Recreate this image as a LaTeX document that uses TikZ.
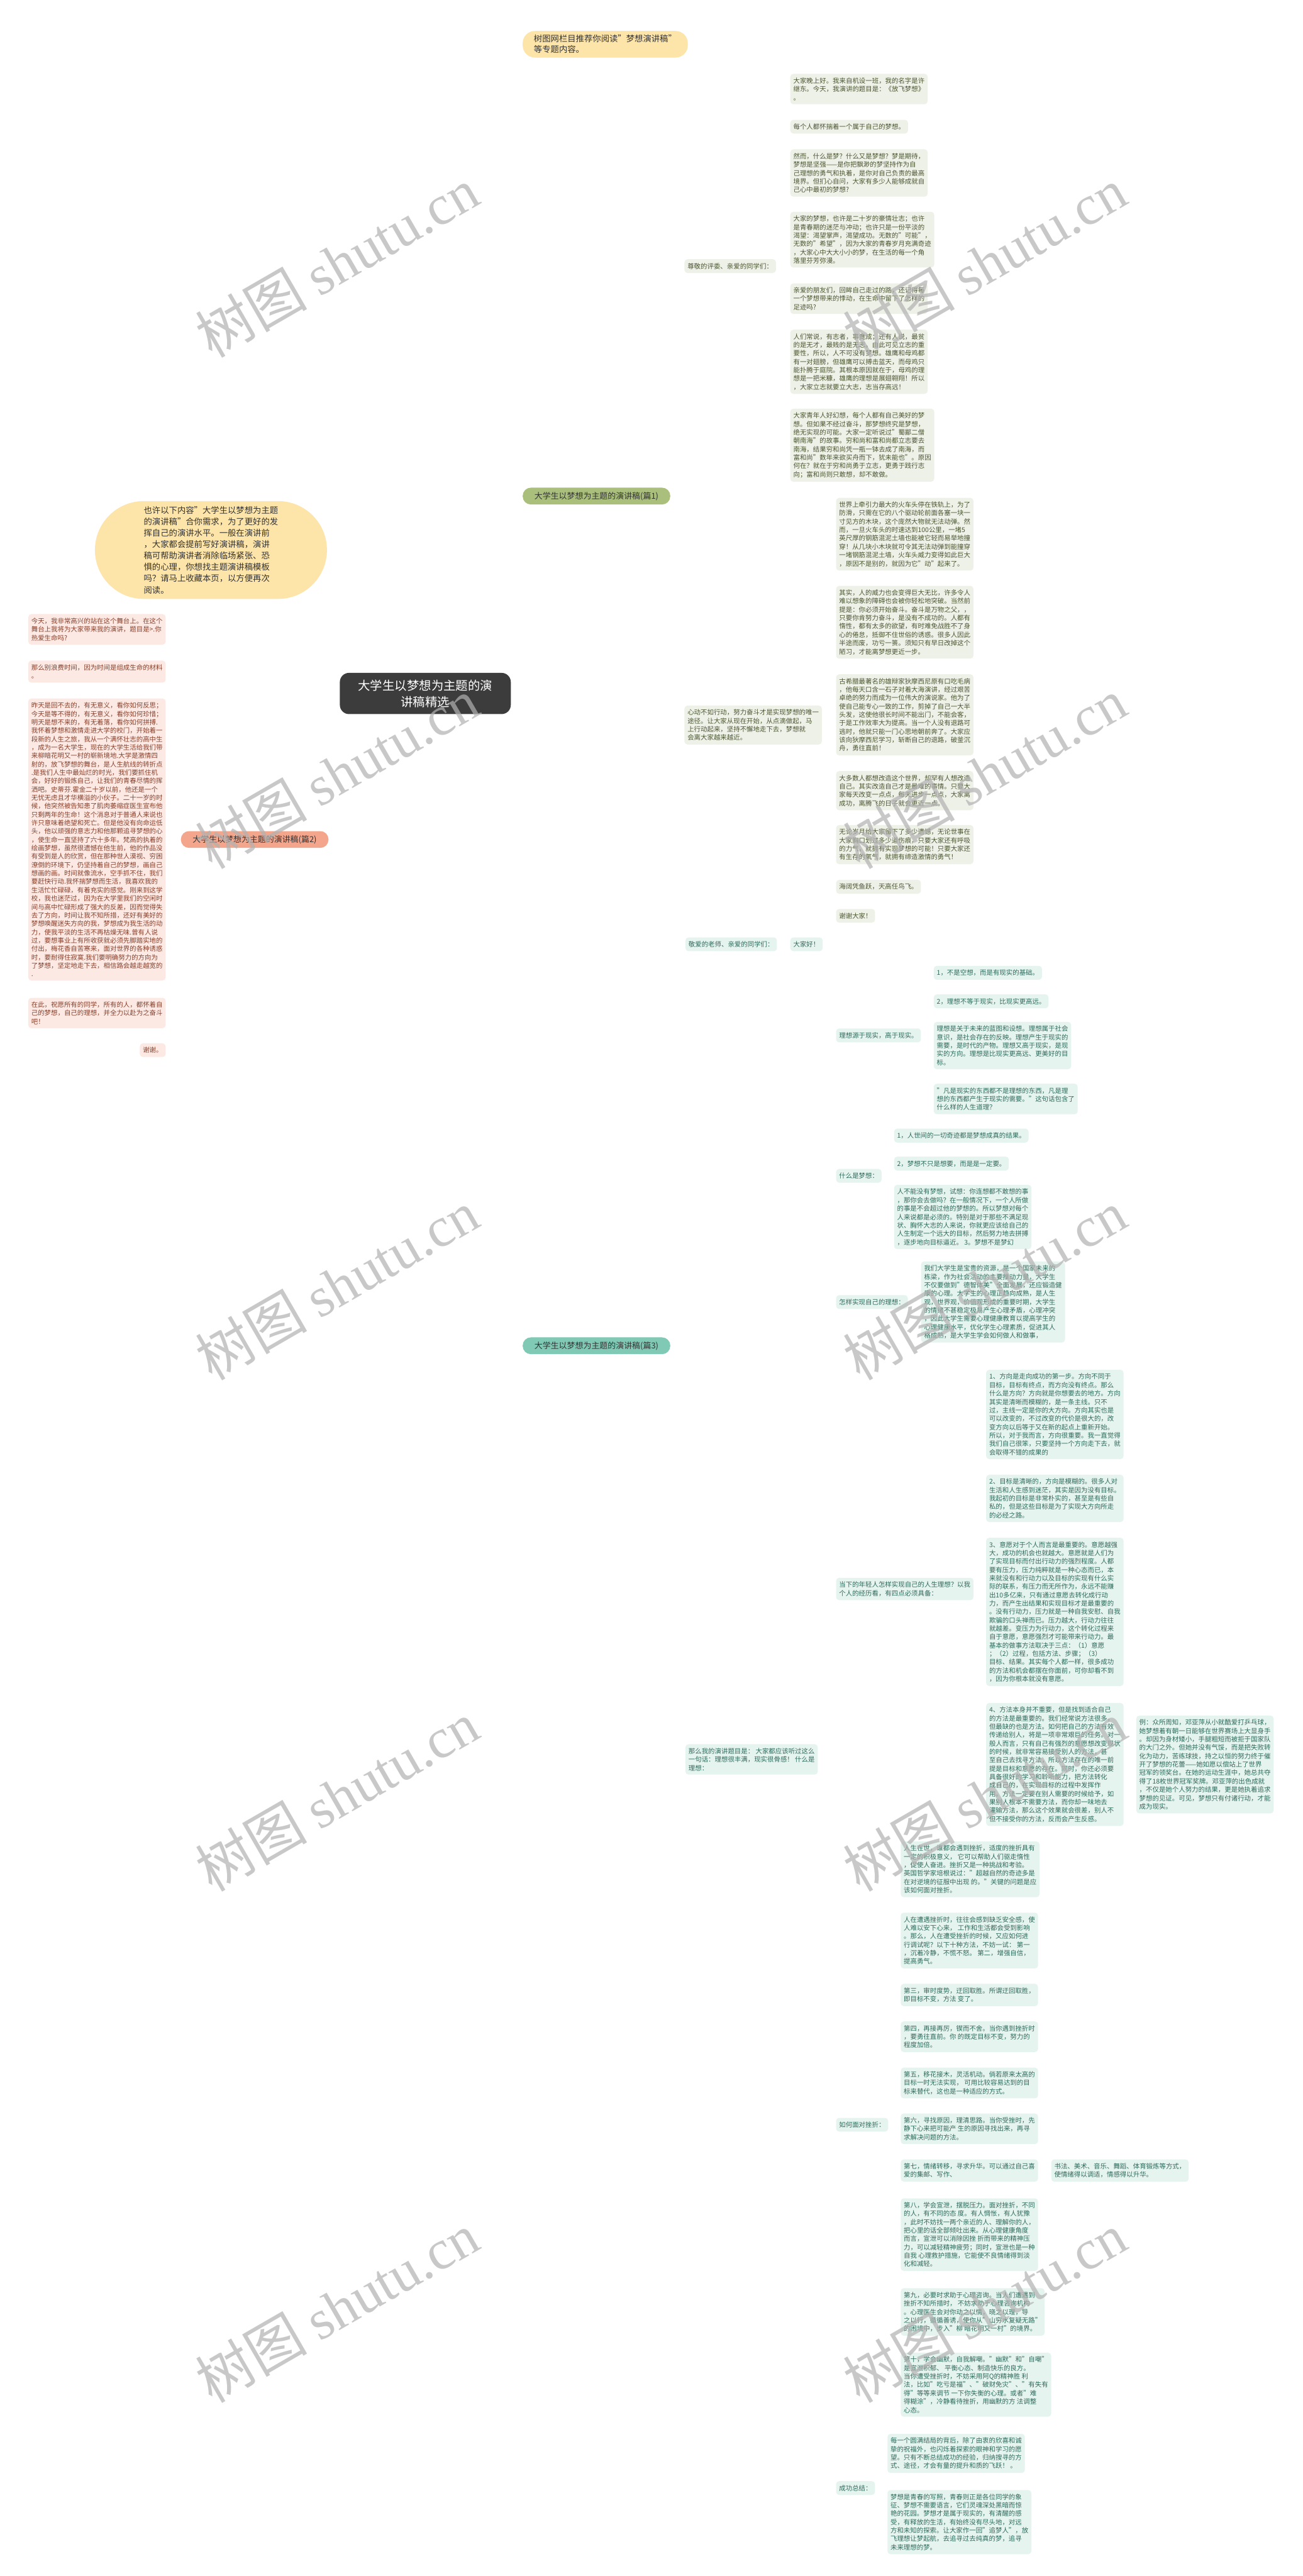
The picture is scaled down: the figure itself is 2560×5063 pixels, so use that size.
\documentclass[tikz,border=0pt]{standalone}
\usepackage{fontspec}
\setmainfont{Noto Sans CJK SC}
\newfontfamily\wmlatin{Liberation Serif}
\pgfdeclarelayer{bg}
\pgfdeclarelayer{fg}
\pgfsetlayers{bg,main,fg}
\definecolor{gline}{HTML}{9DB36F}
\definecolor{gfill}{HTML}{EEF1E7}
\definecolor{gtext}{HTML}{4B5632}
\definecolor{gnode}{HTML}{A9BF7B}
\definecolor{pline}{HTML}{EC8D70}
\definecolor{pfill}{HTML}{FDE9E3}
\definecolor{ptext}{HTML}{87402C}
\definecolor{pnode}{HTML}{F4A68D}
\definecolor{tline}{HTML}{79C3AE}
\definecolor{tfill}{HTML}{E5F4EF}
\definecolor{ttext}{HTML}{2F6A5B}
\definecolor{tnode}{HTML}{80CAB5}
\definecolor{yline}{HTML}{F8D893}
\definecolor{yfill}{HTML}{FDE4A9}
\definecolor{ctrfill}{HTML}{3C3C3C}
\begin{document}
\begin{tikzpicture}[x=0.5pt,y=-0.5pt,
 box/.style={rounded corners=3pt,inner xsep=3pt,inner ysep=3.75pt,align=left,font=\fontsize{6.45pt}{8.25pt}\selectfont},
 gbox/.style={box,fill=gfill,text=gtext},
 pbox/.style={box,fill=pfill,text=ptext},
 tbox/.style={box,fill=tfill,text=ttext},
 branch/.style={rounded corners=8pt,minimum width=145pt,minimum height=16.5pt,inner xsep=4pt,inner ysep=2pt,font=\fontsize{8pt}{10pt}\selectfont,text=black!80},
 gl/.style={draw=gline,line width=1pt,rounded corners=5pt},
 pl/.style={draw=pline,line width=1pt,rounded corners=5pt},
 tl/.style={draw=tline,line width=1pt,rounded corners=5pt},
 yl/.style={draw=yline,line width=1.6pt},
 wm/.style={text=black!30,text opacity=0.7,font=\fontsize{55pt}{60pt}\selectfont,inner sep=0pt,rotate=30}
]
\fill[white] (0,0) rectangle (2560,5063);
\useasboundingbox (0,0) rectangle (2560,5063);

% ---------- centre and first level ----------
\node[fill=ctrfill,text=white,rounded corners=9pt,minimum width=168pt,minimum height=40.5pt,align=center,font=\fontsize{12pt}{16pt}\selectfont] (ctr) at (836,1363) {大学生以梦想为主题的演\\讲稿精选};
\node[fill=yfill,rounded corners=12pt,inner xsep=11pt,inner ysep=4pt,align=left,text=black!80,font=\fontsize{8.25pt}{10.5pt}\selectfont,anchor=west] (top) at (1027,87) {树图网栏目推荐你阅读"梦想演讲稿"\\等专题内容。};
\node[fill=yfill,rounded corners=48pt,inner xsep=48pt,inner ysep=5pt,align=left,text=black!80,font=\fontsize{8.25pt}{11.2pt}\selectfont,anchor=east] (intro) at (643,1081) {也许以下内容"大学生以梦想为主题\\的演讲稿"合你需求，为了更好的发\\挥自己的演讲水平。一般在演讲前\\，大家都会提前写好演讲稿，演讲\\稿可帮助演讲者消除临场紧张、恐\\惧的心理，你想找主题演讲稿模板\\吗？请马上收藏本页，以方便再次\\阅读。};
\node[branch,fill=gnode,anchor=west] (p1) at (1027,975) {大学生以梦想为主题的演讲稿(篇1)};
\node[branch,fill=pnode,anchor=east] (p2) at (646,1650) {大学生以梦想为主题的演讲稿(篇2)};
\node[branch,fill=tnode,anchor=west] (p3) at (1027,2645) {大学生以梦想为主题的演讲稿(篇3)};

% ---------- branch 1 (green) ----------
\node[gbox,anchor=west] (h1) at (1345,523) {尊敬的评委、亲爱的同学们：};
\node[gbox,anchor=west] (h2) at (1345,1425) {心动不如行动，努力奋斗才是实现梦想的唯一\\途径。让大家从现在开始，从点滴做起，马\\上行动起来，坚持不懈地走下去，梦想就\\会离大家越来越近。};
\node[gbox,anchor=west] (a1) at (1553,175) {大家晚上好。我来自机设一班，我的名字是许\\继东。今天，我演讲的题目是：《放飞梦想》\\。};
\node[gbox,anchor=west] (a2) at (1553,249) {每个人都怀揣着一个属于自己的梦想。};
\node[gbox,anchor=west] (a3) at (1553,340) {然而，什么是梦？什么又是梦想？梦是期待，\\梦想是坚强——是你把飘渺的梦坚持作为自\\己理想的勇气和执着，是你对自己负责的最高\\境界。但扪心自问，大家有多少人能够成就自\\己心中最初的梦想?};
\node[gbox,anchor=west] (a4) at (1553,471) {大家的梦想，也许是二十岁的豪情壮志；也许\\是青春期的迷茫与冲动；也许只是一份平淡的\\渴望：渴望掌声，渴望成功。无数的"可能"，\\无数的"希望"，因为大家的青春岁月充满奇迹\\，大家心中大大小小的梦，在生活的每一个角\\落里芬芳弥漫。};
\node[gbox,anchor=west] (a5) at (1553,587) {亲爱的朋友们，回眸自己走过的路，还记得每\\一个梦想带来的悸动，在生命中留下了怎样的\\足迹吗?};
\node[gbox,anchor=west] (a6) at (1553,711) {人们常说，有志者，事竟成；还有人说，最贫\\的是无才，最贱的是无志。由此可见立志的重\\要性，所以，人不可没有梦想。雄鹰和母鸡都\\有一对翅膀，但雄鹰可以搏击蓝天，而母鸡只\\能扑腾于庭院。其根本原因就在于，母鸡的理\\想是一把米糠，雄鹰的理想是展翅翱翔！所以\\，大家立志就要立大志，志当存高远！};
\node[gbox,anchor=west] (a7) at (1553,875) {大家青年人好幻想，每个人都有自己美好的梦\\想。但如果不经过奋斗，那梦想终究是梦想，\\绝无实现的可能。大家一定听说过"蜀鄙二僧\\朝南海"的故事。穷和尚和富和尚都立志要去\\南海，结果穷和尚凭一瓶一钵去成了南海，而\\富和尚"数年来欲买舟而下，犹未能也"。原因\\何在？就在于穷和尚勇于立志，更勇于践行志\\向；富和尚则只敢想，却不敢做。};
\node[gbox,anchor=west] (b1) at (1643,1050) {世界上牵引力最大的火车头停在铁轨上，为了\\防滑，只需在它的八个驱动轮前面各塞一块一\\寸见方的木块，这个庞然大物就无法动弹。然\\而，一旦火车头的时速达到100公里，一堵5\\英尺厚的钢筋混泥土墙也能被它轻而易举地撞\\穿！从几块小木块就可令其无法动弹到能撞穿\\一堵钢筋混泥土墙，火车头威力变得如此巨大\\，原因不是别的，就因为它"动"起来了。};
\node[gbox,anchor=west] (b2) at (1643,1223) {其实，人的威力也会变得巨大无比，许多令人\\难以想象的障碍也会被你轻松地突破。当然前\\提是：你必须开始奋斗。奋斗是万物之父，，\\只要你肯努力奋斗，是没有不成功的。人都有\\惰性，都有太多的欲望，有时难免战胜不了身\\心的倦怠，抵御不住世俗的诱惑。很多人因此\\半途而废，功亏一篑。须知只有早日改掉这个\\陋习，才能离梦想更近一步。};
\node[gbox,anchor=west] (b3) at (1643,1405) {古希腊最著名的雄辩家狄摩西尼原有口吃毛病\\，他每天口含一石子对着大海演讲，经过艰苦\\卓绝的努力而成为一位伟大的演说家。他为了\\使自己能专心一致的工作，剪掉了自己一大半\\头发，这使他很长时间不能出门，不能会客，\\于是工作效率大为提高。当一个人没有退路可\\逃时，他就只能一门心思地朝前奔了。大家应\\该向狄摩西尼学习，斩断自己的退路，破釜沉\\舟，勇往直前！};
\node[gbox,anchor=west] (b4) at (1643,1554) {大多数人都想改造这个世界，却罕有人想改造\\自己。其实改造自己才是最难的事情。只要大\\家每天改变一点点，每天进步一点点，大家离\\成功，离腾飞的日子就会更近一点。};
\node[gbox,anchor=west] (b5) at (1643,1660) {无论岁月给大家留下了多少遗憾，无论世事在\\大家胸口划过多少道伤痕，只要大家还有呼吸\\的力气，就拥有实现梦想的可能！只要大家还\\有生存的氧气，就拥有缔造激情的勇气！};
\node[gbox,anchor=west] (b6) at (1643,1743) {海阔凭鱼跃，天高任鸟飞。};
\node[gbox,anchor=west] (b7) at (1643,1800) {谢谢大家！};

% ---------- branch 2 (salmon, left) ----------
\node[pbox,anchor=east] (l1) at (326,1237) {今天，我非常高兴的站在这个舞台上。在这个\\舞台上我将为大家带来我的演讲，题目是>.你\\热爱生命吗?};
\node[pbox,anchor=east] (l2) at (326,1320) {那么别浪费时间，因为时间是组成生命的材料\\。};
\node[pbox,anchor=east] (l3) at (326,1650) {昨天是回不去的，有无意义，看你如何反思；\\今天是等不得的，有无意义，看你如何珍惜；\\明天是想不来的，有无着落，看你如何拼搏.\\我怀着梦想和激情走进大学的校门，开始着一\\段新的人生之旅，我从一个满怀壮志的高中生\\，成为一名大学生，现在的大学生活给我们带\\来柳暗花明又一村的崭新境地.大学是激情四\\射的，放飞梦想的舞台，是人生航线的转折点\\.是我们人生中最灿烂的时光，我们要抓住机\\会，好好的锻炼自己，让我们的青春尽情的挥\\洒吧。史蒂芬.霍金二十岁以前，他还是一个\\无忧无虑且才华横溢的小伙子。二十一岁的时\\候，他突然被告知患了肌肉萎缩症医生宣布他\\只剩两年的生命！这个消息对于普通人来说也\\许只意味着绝望和死亡。但是他没有向命运低\\头，他以顽强的意志力和他那颗追寻梦想的心\\，使生命一直坚持了六十多年。梵高的执着的\\绘画梦想，虽然很遗憾在他生前，他的作品没\\有受到是人的欣赏，但在那种世人漠视、穷困\\潦倒的环境下，仍坚持着自己的梦想，画自己\\想画的画。时间就像流水，空手抓不住，我们\\要赶快行动.我怀揣梦想而生活，我喜欢我的\\生活忙忙碌碌，有着充实的感觉。刚来到这学\\校，我也迷茫过，因为在大学里我们的空闲时\\间与高中忙碌形成了强大的反差，因而觉得失\\去了方向，时间让我不知所措，还好有美好的\\梦想唤醒迷失方向的我，梦想成为我生活的动\\力，使我平淡的生活不再枯燥无味.曾有人说\\过，要想事业上有所收获就必须先脚踏实地的\\付出，梅花香自苦寒来，面对世界的各种诱惑\\时，要耐得住寂寞.我们要明确努力的方向为\\了梦想，坚定地走下去，相信路会越走越宽的\\.};
\node[pbox,anchor=east] (l4) at (326,1991) {在此，祝愿所有的同学，所有的人，都怀着自\\己的梦想，自己的理想，并全力以赴为之奋斗\\吧！};
\node[pbox,anchor=east] (l5) at (326,2064) {谢谢。};

% ---------- branch 3 (teal) ----------
\node[tbox,anchor=west] (t1) at (1347,1856) {敬爱的老师、亲爱的同学们：};
\node[tbox,anchor=west] (t1a) at (1553,1856) {大家好！};
\node[tbox,anchor=west] (t2) at (1347,3458) {那么我的演讲题目是： 大家都应该听过这么\\一句话：理想很丰满，现实很骨感！ 什么是\\理想：};
\node[tbox,anchor=west] (s1) at (1643,2035) {理想源于现实，高于现实。};
\node[tbox,anchor=west] (s1a) at (1835,1912) {1，不是空想，而是有现实的基础。};
\node[tbox,anchor=west] (s1b) at (1835,1968) {2，理想不等于现实，比现实更高远。};
\node[tbox,anchor=west] (s1c) at (1835,2055) {理想是关于未来的蓝图和设想。理想属于社会\\意识，是社会存在的反映。理想产生于现实的\\需要，是时代的产物。理想又高于现实，是现\\实的方向。理想是比现实更高远、更美好的目\\标。};
\node[tbox,anchor=west] (s1d) at (1835,2160) {"凡是现实的东西都不是理想的东西，凡是理\\想的东西都产生于现实的需要。"这句话包含了\\什么样的人生道理？};
\node[tbox,anchor=west] (s2) at (1643,2311) {什么是梦想：};
\node[tbox,anchor=west] (s2a) at (1757,2232) {1，人世间的一切奇迹都是梦想成真的结果。};
\node[tbox,anchor=west] (s2b) at (1757,2287) {2，梦想不只是想要，而是是一定要。};
\node[tbox,anchor=west] (s2c) at (1757,2392) {人不能没有梦想，试想：你连想都不敢想的事\\，那你会去做吗？在一般情况下，一个人所做\\的事是不会超过他的梦想的。所以梦想对每个\\人来说都是必须的。特别是对于那些不满足现\\状、胸怀大志的人来说，你就更应该给自己的\\人生制定一个远大的目标，然后努力地去拼搏\\，逐步地向目标逼近。 3。梦想不是梦幻};
\node[tbox,anchor=west] (s3) at (1643,2559) {怎样实现自己的理想：};
\node[tbox,anchor=west] (s3a) at (1810,2559) {我们大学生是宝贵的资源，是一个国家未来的\\栋梁，作为社会活动的主要推动力量，大学生\\不仅要做到"德智体美"全面发展，还应锻造健\\康的心理。大学生的心理正趋向成熟，是人生\\观，世界观，价值观形成的重要时期，大学生\\的情绪不甚稳定极易产生心理矛盾，心理冲突\\，因此大学生需要心理健康教育以提高学生的\\心理健康水平，优化学生心理素质，促进其人\\格成熟，是大学生学会如何做人和做事，};
\node[tbox,anchor=west] (s4) at (1643,3123) {当下的年轻人怎样实现自己的人生理想？以我\\个人的经历看，有四点必须具备：};
\node[tbox,anchor=west] (s4a) at (1938,2780) {1、方向是走向成功的第一步。方向不同于\\目标，目标有终点，而方向没有终点。那么\\什么是方向？方向就是你想要去的地方。方向\\其实是清晰而模糊的，是一条主线。只不\\过，主线一定是你的大方向。方向其实也是\\可以改变的，不过改变的代价是很大的，改\\变方向以后等于又在新的起点上重新开始。\\所以，对于我而言，方向很重要。我一直觉得\\我们自己很笨，只要坚持一个方向走下去，就\\会取得不错的成果的};
\node[tbox,anchor=west] (s4b) at (1938,2945) {2、目标是清晰的，方向是模糊的。很多人对\\生活和人生感到迷茫，其实是因为没有目标。\\我起初的目标是非常朴实的，甚至是有些自\\私的，但是这些目标是为了实现大方向所走\\的必经之路。};
\node[tbox,anchor=west] (s4c) at (1938,3168) {3、意愿对于个人而言是最重要的。意愿越强\\大，成功的机会也就越大。意愿就是人们为\\了实现目标而付出行动力的强烈程度。人都\\要有压力，压力纯粹就是一种心态而已，本\\来就没有和行动力以及目标的实现有什么实\\际的联系，有压力而无所作为，永远不能赚\\出10多亿来，只有通过意愿去转化成行动\\力，而产生出结果和实现目标才是最重要的\\。没有行动力，压力就是一种自我安慰、自我\\欺骗的口头禅而已。压力越大，行动力往往\\就越差。变压力为行动力，这个转化过程来\\自于意愿，意愿强烈才可能带来行动力。最\\基本的做事方法取决于三点：（1）意愿\\；（2）过程，包括方法、步骤；（3）\\目标、结果。其实每个人都一样，很多成功\\的方法和机会都摆在你面前，可你却看不到\\，因为你根本就没有意愿。};
\node[tbox,anchor=west] (s4d) at (1938,3468) {4、方法本身并不重要，但是找到适合自己\\的方法是最重要的。我们经常说方法很多，\\但最缺的也是方法。如何把自己的方法有效\\传递给别人，将是一项非常艰巨的任务。对一\\般人而言，只有自己有强烈的意愿想改变现状\\的时候，就非常容易接受别人的方法，甚\\至自己去找寻方法，所以方法存在的唯一前\\提是目标和意愿的存在。同时，你还必须要\\具备很好的学习和聆听能力，把方法转化\\成自己的，在实现目标的过程中发挥作\\用。方法一定要在别人需要的时候给予，如\\果别人根本不需要方法，而你却一味地去\\灌输方法，那么这个效果就会很差，别人不\\但不接受你的方法，反而会产生反感。};
\node[tbox,anchor=west] (note) at (2233,3468) {例：众所周知，邓亚萍从小就酷爱打乒乓球，\\她梦想着有朝一日能够在世界赛场上大显身手\\。却因为身材矮小，手腿粗短而被拒于国家队\\的大门之外。但她并没有气馁，而是把失败转\\化为动力，苦练球技，持之以恒的努力终于催\\开了梦想的花蕾——她如愿以偿站上了世界\\冠军的领奖台。在她的运动生涯中，她总共夺\\得了18枚世界冠军奖牌。邓亚萍的出色成就\\，不仅是她个人努力的结果，更是她执着追求\\梦想的见证。可见，梦想只有付诸行动，才能\\成为现实。};
\node[tbox,anchor=west] (s5) at (1643,4176) {如何面对挫折：};
\node[tbox,anchor=west] (s5a) at (1770,3674) {人生在世，谁都会遇到挫折，适度的挫折具有\\一定的积极意义， 它可以帮助人们驱走惰性\\，促使人奋进。挫折又是一种挑战和考验。\\英国哲学家培根说过："超越自然的奇迹多是\\在对逆境的征服中出现 的。"关键的问题是应\\该如何面对挫折。};
\node[tbox,anchor=west] (s5b) at (1770,3814) {人在遭遇挫折时，往往会感到缺乏安全感，使\\人难以安下心来， 工作和生活都会受到影响\\。那么，人在遭受挫折的时候，又应如何进\\行调试呢？以下十种方法，不妨一试： 第一\\，沉着冷静，不慌不怒。 第二，增强自信，\\提高勇气。};
\node[tbox,anchor=west] (s5c) at (1770,3921) {第三，审时度势，迂回取胜。所谓迂回取胜，\\即目标不变，方法 变了。};
\node[tbox,anchor=west] (s5d) at (1770,4003) {第四，再接再厉，锲而不舍。当你遇到挫折时\\，要勇往直前。你 的既定目标不变，努力的\\程度加倍。};
\node[tbox,anchor=west] (s5e) at (1770,4094) {第五，移花接木，灵活机动。倘若原来太高的\\目标一时无法实现， 可用比较容易达到的目\\标来替代，这也是一种适应的方式。};
\node[tbox,anchor=west] (s5f) at (1770,4184) {第六，寻找原因，理清思路。当你受挫时，先\\静下心来把可能产 生的原因寻找出来，再寻\\求解决问题的方法。};
\node[tbox,anchor=west] (s5g) at (1770,4266) {第七，情绪转移，寻求升华。可以通过自己喜\\爱的集邮、写作、};
\node[tbox,anchor=west] (s5gr) at (2066,4266) {书法、美术、音乐、舞蹈、体育锻炼等方式，\\使情绪得以调适，情感得以升华。};
\node[tbox,anchor=west] (s5h) at (1770,4392) {第八，学会宣泄，摆脱压力。面对挫折，不同\\的人，有不同的态 度。有人惆怅，有人犹豫\\，此时不妨找一两个亲近的人、理解你的人，\\ 把心里的话全部倾吐出来。从心理健康角度\\而言，宣泄可以消除因挫 折而带来的精神压\\力，可以减轻精神疲劳；同时，宣泄也是一种\\自我 心理救护措施，它能使不良情绪得到淡\\化和减轻。};
\node[tbox,anchor=west] (s5i) at (1770,4544) {第九，必要时求助于心理咨询。当人们遭遇到\\挫折不知所措时， 不妨求助于心理咨询机构\\。心理医生会对你动之以情，晓之以理，导\\之以行，循循善诱，使你从"山穷水复疑无路"\\的困境中，步入"柳 暗花明又一村"的境界。};
\node[tbox,anchor=west] (s5j) at (1770,4687) {第十，学会幽默，自我解嘲。"幽默"和"自嘲"\\是宣泄积郁、 平衡心态、制造快乐的良方。\\当你遭受挫折时，不妨采用阿Q的精神胜 利\\法，比如"吃亏是福"、"破财免灾"、"有失有\\得"等等来调节 一下你失衡的心理。或者"难\\得糊涂"，冷静看待挫折，用幽默的方 法调整\\心态。};
\node[tbox,anchor=west] (s6) at (1643,4890) {成功总结：};
\node[tbox,anchor=west] (s6a) at (1744,4822) {每一个圆满结局的背后，除了由衷的欣喜和诚\\挚的祝福外，也闪烁着探索的眼神和学习的愿\\望。只有不断总结成功的经验，归纳搜寻的方\\式、途径，才会有量的提升和质的飞跃！ 。};
\node[tbox,anchor=west] (s6b) at (1744,4957) {梦想是青春的写照，青春则正是各位同学的象\\征、梦想不需要语言，它们灵魂深处黑暗而惊\\艳的花园。梦想才是属于现实的，有清醒的感\\受，有释放的生活，有始终没有尽头地，对远\\方和未知的探索。让大家作一回"追梦人"，放\\飞理想让梦起航，去追寻过去纯真的梦，追寻\\未来理想的梦。};

% ---------- connectors ----------
\begin{pgfonlayer}{bg}
\draw[yl] (ctr.east) .. controls (1015,1363) and (1015,87) .. (top.west);
\draw[draw=gline,line width=1.6pt] (ctr.east) .. controls (1015,1363) and (1015,975) .. (p1.west);
\draw[draw=tline,line width=1.6pt] (ctr.east) .. controls (1015,1363) and (1015,2645) .. (p3.west);
\draw[yl] (ctr.center) .. controls (760,1200) and (760,1081) .. (intro.east);
\draw[draw=pline,line width=1.6pt] (ctr.center) .. controls (760,1526) and (760,1650) .. (p2.east);
% green
\foreach \c in {h1,h2} \draw[gl] (p1.east) -- ++(13,0) |- (\c.west);
\foreach \c in {a1,a2,a3,a4,a5,a6,a7} \draw[gl] (h1.east) -- ++(13,0) |- (\c.west);
\foreach \c in {b1,b2,b3,b4,b5,b6,b7} \draw[gl] (h2.east) -- ++(13,0) |- (\c.west);
% salmon
\foreach \c in {l1,l2,l4,l5} \draw[pl] (p2.west) -- ++(-16,0) |- (\c.east);
\draw[pl] (p2.west) -- (l3.east);
% teal
\foreach \c in {t1,t2} \draw[tl] (p3.east) -- ++(13,0) |- (\c.west);
\draw[tl] (t1.east) -- (t1a.west);
\foreach \c in {s1,s2,s3,s4,s5,s6} \draw[tl] (t2.east) -- ++(13,0) |- (\c.west);
\foreach \c in {s1a,s1b,s1c,s1d} \draw[tl] (s1.east) -- ++(13,0) |- (\c.west);
\foreach \c in {s2a,s2b,s2c} \draw[tl] (s2.east) -- ++(13,0) |- (\c.west);
\draw[tl] (s3.east) -- (s3a.west);
\foreach \c in {s4a,s4b,s4c,s4d} \draw[tl] (s4.east) -- ++(13,0) |- (\c.west);
\draw[tl] (s4d.east) -- (note.west);
\foreach \c in {s5a,s5b,s5c,s5d,s5e,s5g,s5h,s5i,s5j} \draw[tl] (s5.east) -- ++(13,0) |- (\c.west);
\draw[tl,rounded corners=2pt] (s5.east) -- ++(13,0) |- (s5f.west);
\draw[tl] (s5g.east) -- (s5gr.west);
\foreach \c in {s6a,s6b} \draw[tl] (s6.east) -- ++(13,0) |- (\c.west);
\end{pgfonlayer}

% ---------- watermarks ----------
\begin{pgfonlayer}{fg}
\node[wm] (wm1) at (662,516) {树图 {\wmlatin shutu.cn}};
\node[wm] (wm2) at (1935,516) {树图 {\wmlatin shutu.cn}};
\node[wm] (wm3) at (662,1520) {树图 {\wmlatin shutu.cn}};
\node[wm] (wm4) at (1935,1520) {树图 {\wmlatin shutu.cn}};
\node[wm] (wm5) at (662,2525) {树图 {\wmlatin shutu.cn}};
\node[wm] (wm6) at (1935,2525) {树图 {\wmlatin shutu.cn}};
\node[wm] (wm7) at (662,3530) {树图 {\wmlatin shutu.cn}};
\node[wm] (wm8) at (1935,3530) {树图 {\wmlatin shutu.cn}};
\node[wm] (wm9) at (662,4535) {树图 {\wmlatin shutu.cn}};
\node[wm] (wm10) at (1935,4535) {树图 {\wmlatin shutu.cn}};
\end{pgfonlayer}
\end{tikzpicture}
\end{document}
